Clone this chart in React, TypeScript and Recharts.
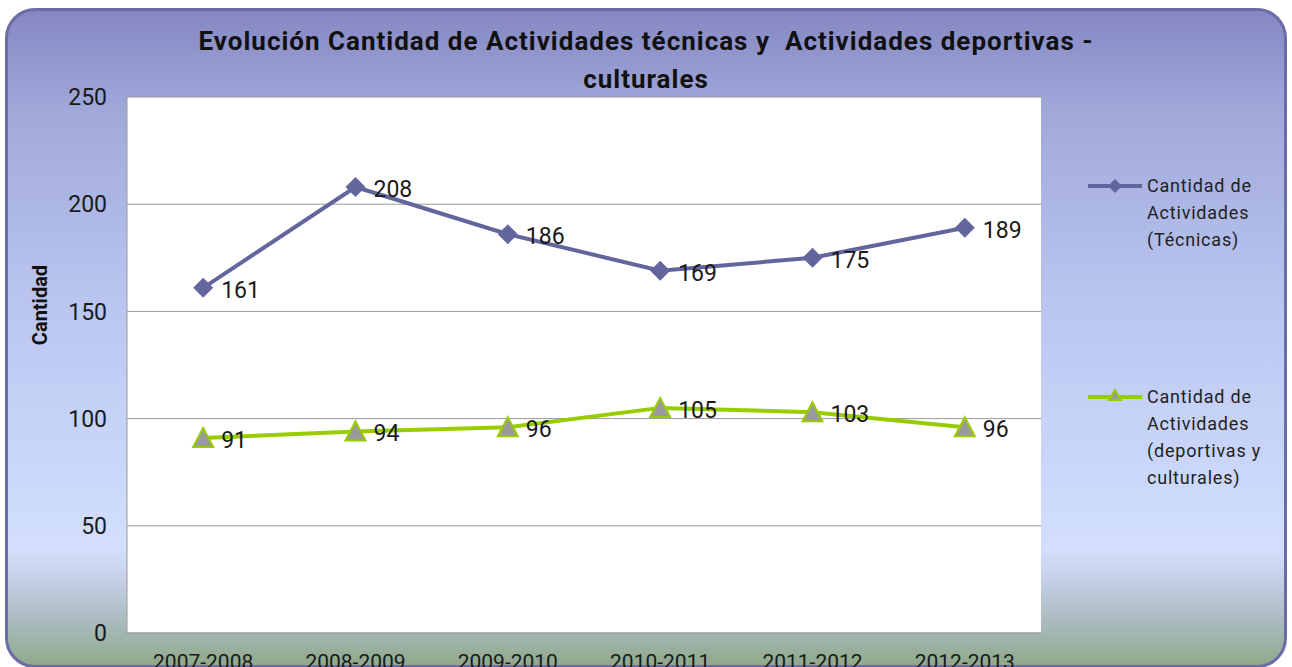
import { CartesianGrid, Legend, LabelList, Line, LineChart, XAxis, YAxis } from "recharts";

const periods = ["2007-2008", "2008-2009", "2009-2010", "2010-2011", "2011-2012", "2012-2013"];
const tecnicas = [161, 208, 186, 169, 175, 189];
const deportivas = [91, 94, 96, 105, 103, 96];
const yTicks = [0, 50, 100, 150, 200, 250];

const PURPLE = "#63659d";
const GREEN = "#99cc00";
const FONT = "Roboto, 'Noto Sans', sans-serif";

const data = periods.map((p, i) => ({ period: p, tecnicas: tecnicas[i], deportivas: deportivas[i] }));

const legendItems = [
  { key: "tec", lines: ["Cantidad de", "Actividades", "(Técnicas)"], top: 0 },
  { key: "dep", lines: ["Cantidad de", "Actividades", "(deportivas y", "culturales)"], top: 211 },
];

function Diamond(props: any) {
  const { cx, cy } = props;
  if (cx == null || cy == null) return null;
  const r = 10;
  return <path d={`M${cx},${cy - r}L${cx + r},${cy}L${cx},${cy + r}L${cx - r},${cy}Z`} fill={PURPLE} />;
}

function Triangle(props: any) {
  const { cx, cy } = props;
  if (cx == null || cy == null) return null;
  return (
    <path
      d={`M${cx},${cy - 10}L${cx + 10},${cy + 9}L${cx - 10},${cy + 9}Z`}
      fill="#9a9a9a"
      stroke={GREEN}
      strokeWidth={2}
    />
  );
}

function ValueLabel(props: any) {
  const { x, y, value } = props;
  return (
    <text x={x + 18} y={y + 10} fontSize={23} fontFamily={FONT} fill="#1a1a1a" textAnchor="start">
      {value}
    </text>
  );
}

function LegendBox() {
  return (
    <div style={{ position: "relative", width: 200, height: 320, fontFamily: FONT, fontSize: 18, color: "#1f1f1f" }}>
      {legendItems.map((item, idx) => (
        <div key={item.key} style={{ position: "absolute", top: item.top, left: 0 }}>
          <svg width={56} height={20} style={{ position: "absolute", left: 0, top: 4 }}>
            <line x1={0} y1={10} x2={54} y2={10} stroke={idx === 0 ? PURPLE : GREEN} strokeWidth={4} />
            {idx === 0 ? (
              <path d="M27,3L34,10L27,17L20,10Z" fill={PURPLE} />
            ) : (
              <path d="M27,3L33,13L21,13Z" fill="#9a9a9a" stroke={GREEN} strokeWidth={2} />
            )}
          </svg>
          <div style={{ position: "absolute", left: 59, top: 0, lineHeight: "27px", whiteSpace: "nowrap", letterSpacing: 0.8 }}>
            {item.lines.map((l) => (
              <div key={l}>{l}</div>
            ))}
          </div>
        </div>
      ))}
    </div>
  );
}

export default function App() {
  return (
    <div style={{ position: "absolute", left: 0, top: 0, width: 1292, height: 667, overflow: "hidden" }}>
      <div
        style={{
          position: "absolute",
          left: 5,
          top: 8,
          width: 1282,
          height: 660,
          boxSizing: "border-box",
          border: "3px solid #6b6ca5",
          borderRadius: 30,
          background:
            "linear-gradient(180deg, #8587c2 0%, #a0a8da 15%, #bac6f0 45%, #d3dffd 82%, #c9d3ec 86%, #b0bfc8 92%, #8fa98a 100%)",
        }}
      />
      <div
        style={{
          position: "absolute",
          left: 0,
          top: 22,
          width: 1292,
          textAlign: "center",
          fontFamily: FONT,
          fontWeight: "bold",
          fontSize: 26,
          letterSpacing: 1,
          lineHeight: "38px",
          color: "#111",
          whiteSpace: "pre",
        }}
      >
        {"Evolución Cantidad de Actividades técnicas y  Actividades deportivas -\nculturales"}
      </div>
      <div style={{ position: "absolute", left: 0, top: 0 }}>
        <LineChart width={1292} height={667} data={data} margin={{ top: 97, right: 51, bottom: 0, left: 0 }}>
          <CartesianGrid vertical={false} stroke="#9a9a9a" fill="#ffffff" />
          <XAxis
            dataKey="period"
            scale="band"
            height={34}
            stroke="#9a9a9a"
            tickLine={false}
            tickMargin={15}
            tick={{ fontSize: 21, fontFamily: FONT, fill: "#1a1a1a" }}
          />
          <YAxis
            width={127}
            domain={[0, 250]}
            ticks={yTicks}
            stroke="#9a9a9a"
            tickLine={false}
            tickMargin={14}
            tick={{ fontSize: 23, fontFamily: FONT, fill: "#1a1a1a" }}
            label={{
              content: () => (
                <text
                  x={47}
                  y={305}
                  transform="rotate(-90 47 305)"
                  textAnchor="middle"
                  fontSize={20}
                  fontWeight="bold"
                  fontFamily={FONT}
                  fill="#111"
                >
                  Cantidad
                </text>
              ),
            }}
          />
          <Legend
            layout="vertical"
            align="right"
            verticalAlign="top"
            content={() => <LegendBox />}
            wrapperStyle={{ position: "absolute", left: 1088, top: 172, width: 200 }}
          />
          <Line
            dataKey="tecnicas"
            name="Cantidad de Actividades (Técnicas)"
            stroke={PURPLE}
            strokeWidth={4}
            dot={<Diamond />}
            activeDot={false}
            isAnimationActive={false}
          >
            <LabelList dataKey="tecnicas" content={<ValueLabel />} />
          </Line>
          <Line
            dataKey="deportivas"
            name="Cantidad de Actividades (deportivas y culturales)"
            stroke={GREEN}
            strokeWidth={4}
            dot={<Triangle />}
            activeDot={false}
            isAnimationActive={false}
          >
            <LabelList dataKey="deportivas" content={<ValueLabel />} />
          </Line>
        </LineChart>
      </div>
    </div>
  );
}
